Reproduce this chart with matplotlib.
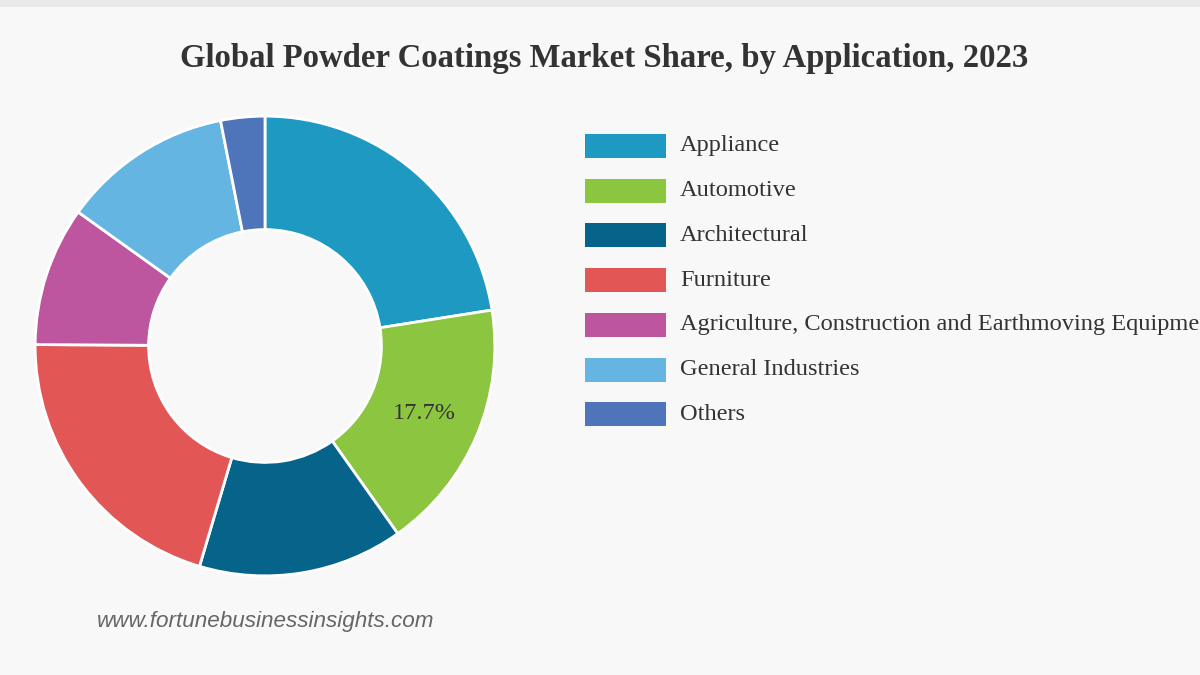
import matplotlib
matplotlib.use("Agg")
import matplotlib.pyplot as plt
from matplotlib.patches import Rectangle
import numpy as np

# data
categories = ["Appliance", "Automotive", "Architectural", "Furniture",
              "Agriculture, Construction and Earthmoving Equipment",
              "General Industries", "Others"]
shares = [22.5, 17.7, 14.4, 20.5, 9.8, 12.0, 3.1]
colors = ["#1e9ac2", "#8cc540", "#066389", "#e35656", "#bd559f", "#65b5e3", "#4e75b9"]
shown_label = "Automotive"

W, H = 1200, 675
bg = "#f8f8f8"
fig = plt.figure(figsize=(W / 100, H / 100), dpi=100, facecolor=bg)

# thin grey band at the top
fig.patches.append(Rectangle((0, 1 - 7 / H), 1, 7 / H, transform=fig.transFigure,
                             facecolor="#e9e9e9", edgecolor="none"))

fig.text(604 / W, 1 - 59 / H, "Global Powder Coatings Market Share, by Application, 2023",
         ha="center", va="center", fontsize=23.6, fontweight="bold",
         family="Liberation Serif", color="#333333")

# donut
cx, cy, r = 265, 346, 231
ax = fig.add_axes([(cx - r) / W, (H - cy - r) / H, 2 * r / W, 2 * r / H])
ax.set_facecolor(bg)
hole = 117 / r
wedges, _ = ax.pie(shares, colors=colors, startangle=90, counterclock=False, radius=1,
                   wedgeprops=dict(width=1 - hole, edgecolor="white", linewidth=2))
ax.set_xlim(-1.005, 1.005)
ax.set_ylim(-1.005, 1.005)
ax.set_aspect("equal")
ax.axis("off")

for w, name, val in zip(wedges, categories, shares):
    if name == shown_label:
        mid = np.deg2rad((w.theta1 + w.theta2) / 2)
        rr = (1 + hole) / 2
        ax.text(rr * np.cos(mid), rr * np.sin(mid), f"{val}%", ha="center", va="center",
                fontsize=17.5, family="Liberation Serif", color="#333333")

# legend drawn by hand
y0, step = 146, 44.7
for i, (name, c) in enumerate(zip(categories, colors)):
    y = y0 + i * step
    fig.patches.append(Rectangle((585 / W, 1 - (y + 12) / H), 81 / W, 24 / H,
                                 transform=fig.transFigure, facecolor=c, edgecolor="none"))
    fig.text(680 / W, 1 - y / H, name, ha="left", va="center", fontsize=17.6,
             family="Liberation Serif", color="#333333")

fig.text(97 / W, 1 - 621 / H, "www.fortunebusinessinsights.com", ha="left", va="center",
         fontsize=16.2, style="italic", family="Liberation Sans", color="#666666")

fig.savefig("out.png", dpi=100, facecolor=bg)
